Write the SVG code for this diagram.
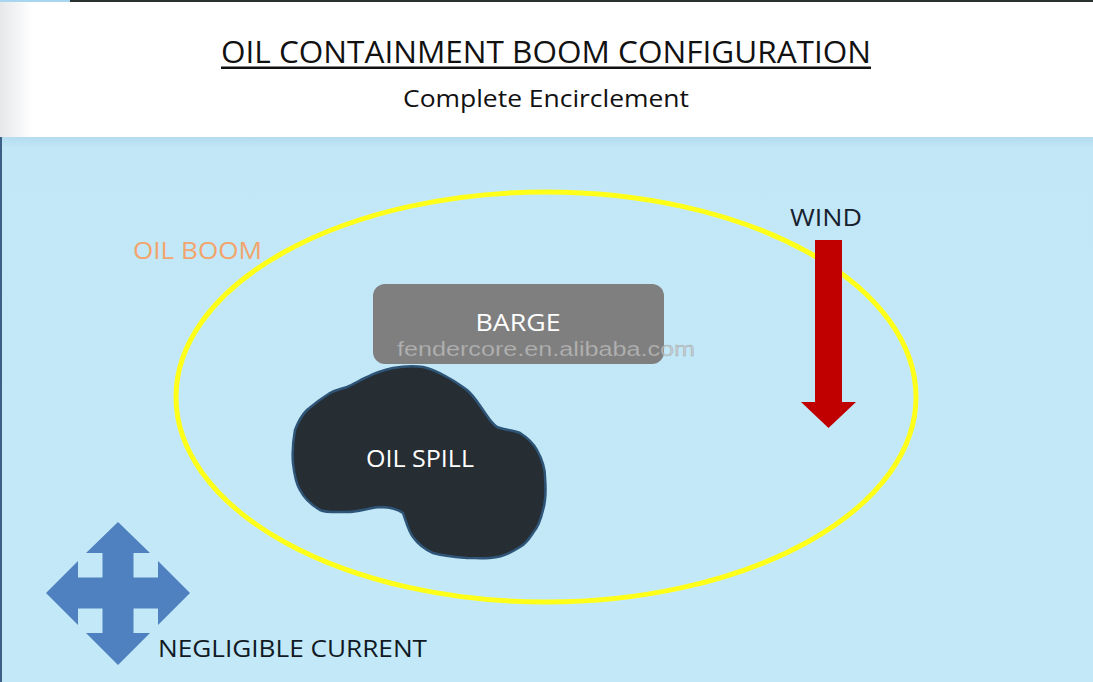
<svg xmlns="http://www.w3.org/2000/svg" width="1093" height="682" viewBox="0 0 1093 682">
  <defs>
    <style>
      .t { font-family: "Open Sans", "Liberation Sans", sans-serif; }
      .lbl { font-size: 24px; }
    </style>
    <linearGradient id="sea" x1="0" y1="0" x2="0" y2="1">
      <stop offset="0" stop-color="#b4dcef"/>
      <stop offset="0.02" stop-color="#c2e8f8"/>
      <stop offset="1" stop-color="#c3e9f8"/>
    </linearGradient>
    <linearGradient id="hdr" x1="0" y1="0" x2="1" y2="0">
      <stop offset="0" stop-color="#e6e8ea"/>
      <stop offset="0.03" stop-color="#ffffff"/>
      <stop offset="1" stop-color="#ffffff"/>
    </linearGradient>
  </defs>

  <!-- background -->
  <rect x="0" y="0" width="1093" height="137" fill="url(#hdr)"/>
  <rect x="0" y="137" width="1093" height="545" fill="url(#sea)"/>
  <rect x="0" y="137" width="2" height="545" fill="#3d5f85"/>
  <rect x="70" y="0" width="1023" height="2" fill="#2a2f30"/>
  <rect x="0" y="0" width="70" height="2" fill="#a8d6ee"/>

  <!-- header -->
  <g id="title">
    <text class="t" x="546" y="63" font-size="31" text-anchor="middle" fill="#111" textLength="650" lengthAdjust="spacingAndGlyphs">OIL CONTAINMENT BOOM CONFIGURATION</text>
    <rect x="221" y="66.5" width="650" height="2.5" fill="#111"/>
    <text class="t" x="546" y="107" font-size="24" text-anchor="middle" fill="#111" textLength="286" lengthAdjust="spacingAndGlyphs">Complete Encirclement</text>
  </g>

  <!-- oil boom -->
  <g id="oil-boom">
    <ellipse cx="546" cy="397" rx="370" ry="205" fill="none" stroke="#ffff1a" stroke-width="5"/>
    <text class="t lbl" x="133" y="259" fill="#f3a46c" textLength="129" lengthAdjust="spacingAndGlyphs">OIL BOOM</text>
  </g>

  <!-- barge -->
  <g id="barge">
    <rect x="373" y="284" width="291" height="80" rx="12" fill="#7f7f7f"/>
    <text class="t lbl" x="518" y="331" text-anchor="middle" fill="#ffffff" textLength="85" lengthAdjust="spacingAndGlyphs">BARGE</text>
  </g>

  <!-- oil spill -->
  <g id="oil-spill">
    <path d="M393,368 C405,366 415,366 423,367 C432,369 440,373 447,377 C455,381 461,386 467,390 C474,396 478,403 483,410 C488,417 491,423 497,427 C505,430 513,430 520,433 C528,438 533,443 537,450 C542,459 545,467 545,477 C546,489 546,500 543,510 C541,519 538,527 533,533 C529,539 526,544 520,547 C512,552 505,556 497,557 C487,559 477,558 467,558 C455,557 443,556 433,553 C424,549 418,544 413,537 C408,530 406,521 403,513 C396,508 388,507 380,507 C369,508 357,512 347,512 C337,512 327,513 320,510 C310,504 304,498 300,490 C295,482 294,472 293,463 C292,452 293,441 295,430 C298,422 302,415 307,410 C315,403 322,398 330,393 C336,390 341,389 347,387 C354,384 360,380 367,377 C375,373 384,370 393,368 Z" fill="#262d33" stroke="#2e5577" stroke-width="2.5"/>
    <text class="t lbl" x="420" y="467" text-anchor="middle" fill="#ffffff" textLength="108" lengthAdjust="spacingAndGlyphs">OIL SPILL</text>
  </g>

  <!-- watermark -->
  <text x="546" y="356" font-family="'Liberation Sans', Arial, sans-serif" font-size="20" text-anchor="middle" fill="#c4c4c4" fill-opacity="0.75" stroke="#8a8a8a" stroke-width="0.4" stroke-opacity="0.6" textLength="298" lengthAdjust="spacingAndGlyphs">fendercore.en.alibaba.com</text>

  <!-- wind -->
  <g id="wind">
    <text class="t lbl" x="826" y="226" text-anchor="middle" fill="#17212e" textLength="72" lengthAdjust="spacingAndGlyphs">WIND</text>
    <polygon points="815,240 842,240 842,402 856,402 828.5,428 801,402 815,402" fill="#c00000"/>
  </g>

  <!-- current -->
  <g id="current">
    <polygon points="118,522 150,553 133.5,553 133.5,577.5 158,577.5 158,561 190,593 158,625 158,608.5 133.5,608.5 133.5,633 150,633 118,665 86,633 102.5,633 102.5,608.5 78,608.5 78,625 46,593 78,561 78,577.5 102.5,577.5 102.5,553 86,553" fill="#4f80bf"/>
    <text class="t lbl" x="158" y="657" fill="#111a24" textLength="269" lengthAdjust="spacingAndGlyphs">NEGLIGIBLE CURRENT</text>
  </g>
</svg>
